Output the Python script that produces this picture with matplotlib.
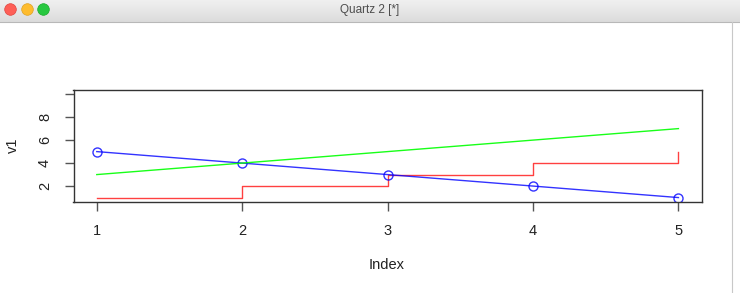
import matplotlib
matplotlib.use("Agg")
import matplotlib.pyplot as plt
from matplotlib.patches import Circle
import numpy as np

# data, as in plot(v1, type="s"); lines(v2, type="o"); lines(v3)
index = [1, 2, 3, 4, 5]
v1 = [1, 2, 3, 4, 5]
v2 = [5, 4, 3, 2, 1]
v3 = [3, 4, 5, 6, 7]
ylim = (1, 10)
yticks = [2, 4, 6, 8, 10]
ytick_labels = ["2", "4", "6", "8", ""]
window_title = "Quartz 2 [*]"

W, H = 740, 293
plt.rcParams['font.family'] = ['Liberation Sans', 'DejaVu Sans']

fig = plt.figure(figsize=(W / 100, H / 100), dpi=100)
fig.patch.set_facecolor("white")

# window chrome drawn in pixel coordinates
chrome = fig.add_axes([0, 0, 1, 1], zorder=0)
chrome.axis("off")
grad = np.linspace(0.94, 0.86, 50).reshape(-1, 1)
chrome.imshow(grad, cmap="gray", vmin=0, vmax=1, extent=[0, W, 22, 0], aspect="auto")
chrome.plot([0, W], [22, 22], color="#b8b8b8", lw=0.8)
for cx, col, ec in [(10.5, "#fe5f57", "#e0443e"), (27.5, "#febc2e", "#dea123"), (43.5, "#28c840", "#1aab29")]:
    chrome.add_patch(Circle((cx, 9.5), 5.8, facecolor=col, edgecolor=ec, lw=0.5))
chrome.text(370, 10, window_title, ha="center", va="center", fontsize=8.5, color="#4d4d4d")
chrome.plot([732, 732], [22, H], color="#c8c8c8", lw=0.8)
chrome.set_xlim(0, W)
chrome.set_ylim(H, 0)

# plot region, R-style 4% padding
x0, x1 = 73.5, 701.7
y0, y1 = 90, 201.7
ax = fig.add_axes([x0 / W, 1 - y1 / H, (x1 - x0) / W, (y1 - y0) / H], zorder=1)
xr = max(index) - min(index)
yr = ylim[1] - ylim[0]
ax.set_xlim(min(index) - 0.04 * xr, max(index) + 0.04 * xr)
ax.set_ylim(ylim[0] - 0.04 * yr, ylim[1] + 0.04 * yr)

ax.step(index, v1, where="post", color="#ff0000", lw=1.0, alpha=0.75)
ax.plot(index, v2, color="#0000ff", lw=1.0, alpha=0.8, marker="o", ms=6.5,
        mfc="none", mec="#0000ff", mew=1.0)
ax.plot(index, v3, color="#00ff00", lw=1.0, alpha=0.9)

for s in ax.spines.values():
    s.set_color("#333333")
    s.set_linewidth(1.0)
ax.set_xticks(index)
ax.set_xticklabels([str(i) for i in index])
ax.set_yticks(yticks)
ax.set_yticklabels(ytick_labels, rotation=90, va="center")
ax.tick_params(axis="both", direction="out", length=6.5, width=1.0, color="#555555",
               labelsize=10.5, labelcolor="#222222")
ax.tick_params(axis="x", pad=9.5)
ax.tick_params(axis="y", pad=9)

fig.text(387 / W, 1 - 265 / H, "Index", ha="center", va="center", fontsize=10.5, color="#222222")
fig.text(13 / W, 1 - 145 / H, "v1", ha="center", va="center", rotation=90, fontsize=10.5, color="#222222")

fig.savefig("out.png", dpi=100)
